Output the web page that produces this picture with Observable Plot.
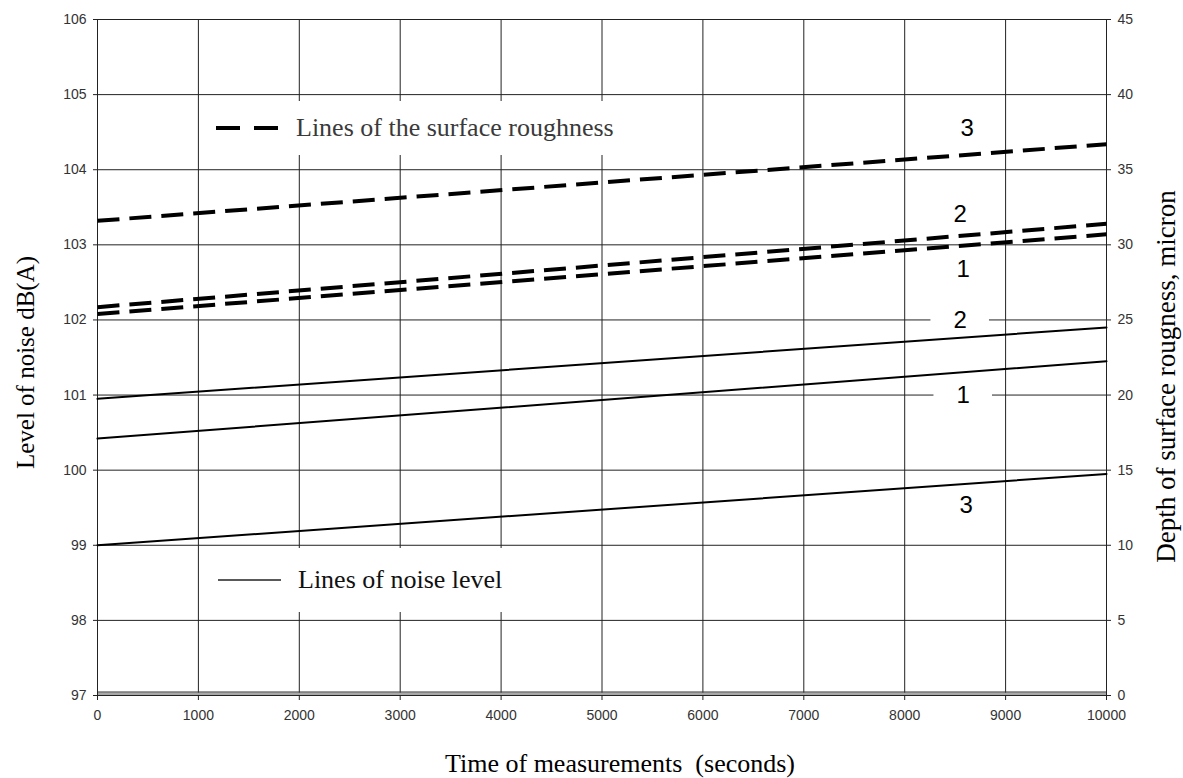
<!DOCTYPE html>
<html>
<head>
<meta charset="utf-8">
<script src="https://cdn.jsdelivr.net/npm/d3@7"></script>
<script src="https://cdn.jsdelivr.net/npm/@observablehq/plot@0.6"></script>
<style>
  html, body { margin: 0; padding: 0; background: #fff; }
  #wrap { position: relative; width: 1183px; height: 778px; }
  .legend { position: absolute; background: #fff; display: flex; align-items: center;
            font-family: "Liberation Serif", "Times New Roman", serif; font-size: 26px; }
  .legend svg { display: block; }
</style>
</head>
<body>
<div id="wrap"></div>
<script>
// ---- data ----
const timeTicks = [0, 1000, 2000, 3000, 4000, 5000, 6000, 7000, 8000, 9000, 10000];
const noiseTicks = [97, 98, 99, 100, 101, 102, 103, 104, 105, 106];
const roughTicks = [0, 5, 10, 15, 20, 25, 30, 35, 40, 45];

const time = [0, 10000];
// noise level, dB(A) (left axis)
const noise1 = [100.42, 101.45];
const noise2 = [100.95, 101.90];
const noise3 = [99.00, 99.95];
// depth of surface roughness, micron (right axis)
const rough1 = [25.4, 30.7];
const rough2 = [25.85, 31.4];
const rough3 = [31.6, 36.7];

// curve labels (time, noise-axis level)
const labelText  = ["3", "2", "1", "2", "1", "3"];
const labelTime  = [8620, 8550, 8580, 8550, 8580, 8610];
const labelLevel = [104.55, 103.4, 102.68, 102.0, 101.0, 99.53];
const labelBoxed = [false, false, false, true, true, false];

// right axis (micron) -> left axis (dB): 0 micron = 97 dB, 5 micron = 1 dB
const toDb = m => 97 + m / 5;

const noiseRows = [];
[["1", noise1], ["2", noise2], ["3", noise3]].forEach(([s, v]) =>
  v.forEach((val, i) => noiseRows.push({series: s, time: time[i], level: val})));
const roughRows = [];
[["1", rough1], ["2", rough2], ["3", rough3]].forEach(([s, v]) =>
  v.forEach((val, i) => roughRows.push({series: s, time: time[i], level: toDb(val)})));
const labels = labelText.map((t, i) => ({text: t, time: labelTime[i], level: labelLevel[i], boxed: labelBoxed[i]}));

const serif = "'Liberation Serif', 'Times New Roman', serif";
const sans = "'Liberation Sans', Arial, sans-serif";

const chart = Plot.plot({
  width: 1183,
  height: 778,
  marginLeft: 97,
  marginRight: 77,
  marginTop: 19,
  marginBottom: 83,
  style: {fontFamily: sans, fontSize: "14px", color: "#222", background: "#fff"},
  x: {domain: [0, 10000]},
  y: {domain: [97, 106]},
  marks: [
    Plot.gridX(timeTicks, {stroke: "#222", strokeOpacity: 1, strokeWidth: 1}),
    Plot.gridY(noiseTicks, {stroke: "#222", strokeOpacity: 1, strokeWidth: 1}),
    // floor band
    Plot.ruleY([97], {stroke: "#a8a8a8", strokeWidth: 3, dy: -1.5}),
    Plot.ruleY([97], {stroke: "#333", strokeWidth: 1, dy: -3.5}),
    Plot.ruleY([97], {stroke: "#222", strokeWidth: 1}),
    Plot.ruleX([0], {stroke: "#222", strokeWidth: 1}),
    Plot.ruleX([10000], {stroke: "#222", strokeWidth: 1}),
    // white boxes behind labels sitting on gridlines
    Plot.rect(labels.filter(d => d.boxed), {
      x1: d => d.time - 290, x2: d => d.time + 290,
      y1: d => d.level - 0.17, y2: d => d.level + 0.17, fill: "#fff"
    }),
    Plot.line(noiseRows, {x: "time", y: "level", z: "series", stroke: "#000", strokeWidth: 2}),
    Plot.line(roughRows, {x: "time", y: "level", z: "series", stroke: "#000", strokeWidth: 4,
      strokeDasharray: "22,10", strokeLinecap: "butt"}),
    Plot.text(labels, {x: "time", y: "level", text: "text", fontSize: 24, fontFamily: sans, fill: "#000"}),
    // axes
    Plot.axisX(timeTicks, {anchor: "bottom", tickSize: 5, tickPadding: 10, tickFormat: d => String(d),
      fontSize: 14, fill: "#333", stroke: "#222", label: null}),
    Plot.axisY(noiseTicks, {anchor: "left", tickSize: 4, tickPadding: 7, tickFormat: d => String(d),
      fontSize: 14, fill: "#333", stroke: "#222", label: null}),
    Plot.axisY(roughTicks.map(toDb), {anchor: "right", tickSize: 4, tickPadding: 7,
      tickFormat: d => String(Math.round((d - 97) * 5)), fontSize: 14, fill: "#333", stroke: "#222", label: null}),
    // axis titles
    Plot.text(["Level of noise dB(A)"], {frameAnchor: "left", textAnchor: "middle", rotate: -90, dx: -72, dy: 5,
      fontFamily: serif, fontSize: 25, fill: "#000"}),
    Plot.text(["Depth of surface rougness, micron"], {frameAnchor: "right", textAnchor: "middle", rotate: -90, dx: 60, dy: 19,
      fontFamily: serif, fontSize: 27, fill: "#000"}),
    Plot.text(["Time of measurements  (seconds)"], {frameAnchor: "bottom", textAnchor: "middle", dx: 18, dy: 76,
      fontFamily: serif, fontSize: 26, fill: "#000"})
  ]
});

const wrap = document.getElementById("wrap");
wrap.appendChild(chart);

// legends (overlay boxes with white background)
function legend(left, top, w, h, dashed, text, color) {
  const div = document.createElement("div");
  div.className = "legend";
  Object.assign(div.style, {left: left + "px", top: top + "px", width: w + "px", height: h + "px"});
  const sample = dashed
    ? `<svg width="96" height="10"><line x1="16" x2="81" y1="5" y2="5" stroke="#000" stroke-width="4" stroke-dasharray="24,14"/></svg>`
    : `<svg width="98" height="10"><line x1="18" x2="81" y1="5" y2="5" stroke="#222" stroke-width="1.3"/></svg>`;
  div.innerHTML = sample + `<span style="color:${color}">${text}</span>`;
  wrap.appendChild(div);
}
legend(200, 101, 450, 54, true, "Lines of the surface roughness", "#3a3a3a");
legend(200, 548, 320, 64, false, "Lines of noise level", "#111");
</script>
</body>
</html>
